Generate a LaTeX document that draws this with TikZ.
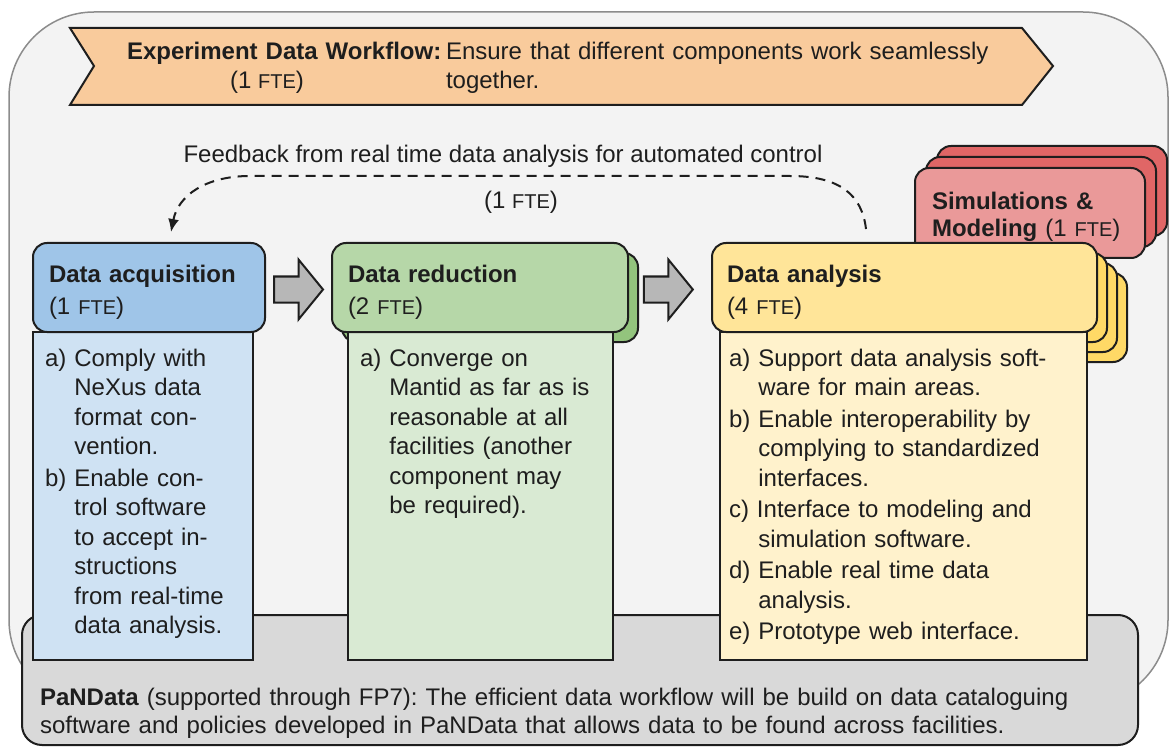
\documentclass[tikz,border=0pt]{standalone}
\usepackage{fontspec}
\setmainfont{Liberation Sans}
\usetikzlibrary{calc,arrows.meta}
\frenchspacing

\definecolor{panel}{HTML}{F3F3F3}
\definecolor{panelline}{HTML}{8C8C8C}
\definecolor{ink}{HTML}{1E1E1E}
\definecolor{bannerfill}{HTML}{F9CB9C}
\definecolor{acqhead}{HTML}{9FC5E8}
\definecolor{acqbody}{HTML}{CFE2F3}
\definecolor{redhead}{HTML}{B6D7A8}
\definecolor{redshade}{HTML}{93C47D}
\definecolor{redbody}{HTML}{D9EAD3}
\definecolor{anahead}{HTML}{FFE599}
\definecolor{anashade}{HTML}{FFD966}
\definecolor{anabody}{HTML}{FFF2CC}
\definecolor{simfront}{HTML}{EA9999}
\definecolor{simback}{HTML}{E06666}
\definecolor{pangray}{HTML}{D9D9D9}
\definecolor{arrowgray}{HTML}{B7B7B7}

% smaller "FTE" used after the head-count numbers
\newcommand\FTEsm{{\fontsize{20}{20}\selectfont FTE}}
% hanging indent for continuation lines of list items
\newcommand\itemind{\hphantom{a)\ }}

\begin{document}
\begin{tikzpicture}[x=1pt,y=-1pt,
  every node/.style={font=\fontsize{24}{29.5}\selectfont, text=ink, inner sep=0pt, outer sep=0pt},
  headbox/.style={draw=ink, line width=2pt, rounded corners=14pt, anchor=north west},
  bodybox/.style={draw=ink, line width=2pt, anchor=north west},
  txt/.style={anchor=base west, align=left, text width=#1},
  txt/.default=600pt,
  blockarrow/.style={draw=ink, fill=arrowgray, line width=2pt, line join=miter},
  feedback/.style={draw=ink, line width=2pt, dash pattern=on 10pt off 7pt,
    -{Latex[length=13pt,width=11pt]}},
]
\useasboundingbox (0,0) rectangle (1173,754);

% outer panel
\draw[panelline, fill=panel, line width=1.5pt, rounded corners=85pt] (9,12) rectangle (1168,705);

% workflow banner
\draw[draw=ink, fill=bannerfill, line width=2pt, line join=miter]
  (70,28) -- (1022,28) -- (1053,66) -- (1022,105) -- (70,105) -- (94,66) -- cycle;
\node[txt=330pt] (wfTitle) at (127,60) {\textbf{Experiment Data Workflow:}};
\node[anchor=base] (wfFte) at (267,89) {(1 \FTEsm)};
\node[txt] (wfText) at (446,60) {Ensure that different components work seamlessly\\[-1pt]together.};

% feedback loop
\node[anchor=base] (fbLabel) at (503,163) {Feedback from real time data analysis for automated control};
\node[anchor=base] (fbFte) at (521,209) {(1 \FTEsm)};
\coordinate (fbstart) at (866,229);
\coordinate (fbend) at (171,232);
\draw[feedback] (fbstart) .. controls (862,195) and (840,176) .. (790,176)
  -- (250,176) .. controls (205,176) and (178,196) .. (fbend);

% simulations stack
\node[headbox, fill=simback, minimum width=230pt, minimum height=90pt] (simB2) at (937,146) {};
\node[headbox, fill=simback, minimum width=230pt, minimum height=90pt] (simB1) at (926,157) {};
\node[headbox, fill=simfront, minimum width=230pt, minimum height=90pt] (simF) at (915,168) {};
\node[txt=220pt] (simText) at (932,210) {\textbf{Simulations \&}\\[-2.5pt]\textbf{Modeling} (1 \FTEsm)};

% PaNData base
\node[headbox, fill=pangray, rounded corners=20pt, minimum width=1116pt, minimum height=130pt] (pan) at (22,615) {};
\node[txt=1090pt] (panText) at (40,705) {\textbf{PaNData} (supported through FP7): The efficient data workflow will be build on data cataloguing\\[-1pt]software and policies developed in PaNData that allows data to be found across facilities.};

% data acquisition
\node[bodybox, fill=acqbody, minimum width=220pt, minimum height=328pt] (acqB) at (33,332) {};
\node[headbox, fill=acqhead, minimum width=232pt, minimum height=89pt] (acqH) at (33,243) {};
\node[txt] (acqTitle) at (49,283) {\textbf{Data acquisition}\\[2pt](1 \FTEsm)};
\node[txt] (acqText) at (45,366) {a) Comply with\\
\itemind NeXus data\\
\itemind format con-\\
\itemind vention.\\[2pt]
b) Enable con-\\
\itemind trol software\\
\itemind to accept in-\\
\itemind structions\\
\itemind from real-time\\
\itemind data analysis.};

% data reduction
\node[headbox, fill=redshade, minimum width=296pt, minimum height=89pt] (redS) at (342,253) {};
\node[bodybox, fill=redbody, minimum width=265pt, minimum height=328pt] (redB) at (348,332) {};
\node[headbox, fill=redhead, minimum width=296pt, minimum height=89pt] (redH) at (332,243) {};
\node[txt] (redTitle) at (348,283) {\textbf{Data reduction}\\[2pt](2 \FTEsm)};
\node[txt] (redText) at (360,366) {a) Converge on\\
\itemind Mantid as far as is\\
\itemind reasonable at all\\
\itemind facilities (another\\
\itemind component may\\
\itemind be required).};

% data analysis
\node[headbox, fill=anashade, minimum width=385pt, minimum height=89pt] (anaS3) at (742,273) {};
\node[headbox, fill=anashade, minimum width=385pt, minimum height=89pt] (anaS2) at (732,263) {};
\node[headbox, fill=anashade, minimum width=385pt, minimum height=89pt] (anaS1) at (722,253) {};
\node[bodybox, fill=anabody, minimum width=367pt, minimum height=328pt] (anaB) at (720,332) {};
\node[headbox, fill=anahead, minimum width=385pt, minimum height=89pt] (anaH) at (712,243) {};
\node[txt] (anaTitle) at (727,283) {\textbf{Data analysis}\\[2pt](4 \FTEsm)};
\node[txt] (anaText) at (729,366) {a) Support data analysis soft-\\
\itemind ware for main areas.\\[2pt]
b) Enable interoperability by\\
\itemind complying to standardized\\
\itemind interfaces.\\[2pt]
c) Interface to modeling and\\
\itemind simulation software.\\[2pt]
d) Enable real time data\\
\itemind analysis.\\[2pt]
e) Prototype web interface.};

% block arrows between stages
\coordinate (arrA) at ($(acqH.east)!0.5!(redH.west)+(0,2)$);
\coordinate (arrB) at ($(redH.east)!0.48!(anaH.west)+(0,2)$);
\foreach \c in {arrA,arrB}{
  \draw[blockarrow, shift={(\c)}] (-24.5,-13) -- (0,-13) -- (0,-30) -- (24.5,0)
    -- (0,30) -- (0,13) -- (-24.5,13) -- cycle;
}
\end{tikzpicture}
\end{document}
